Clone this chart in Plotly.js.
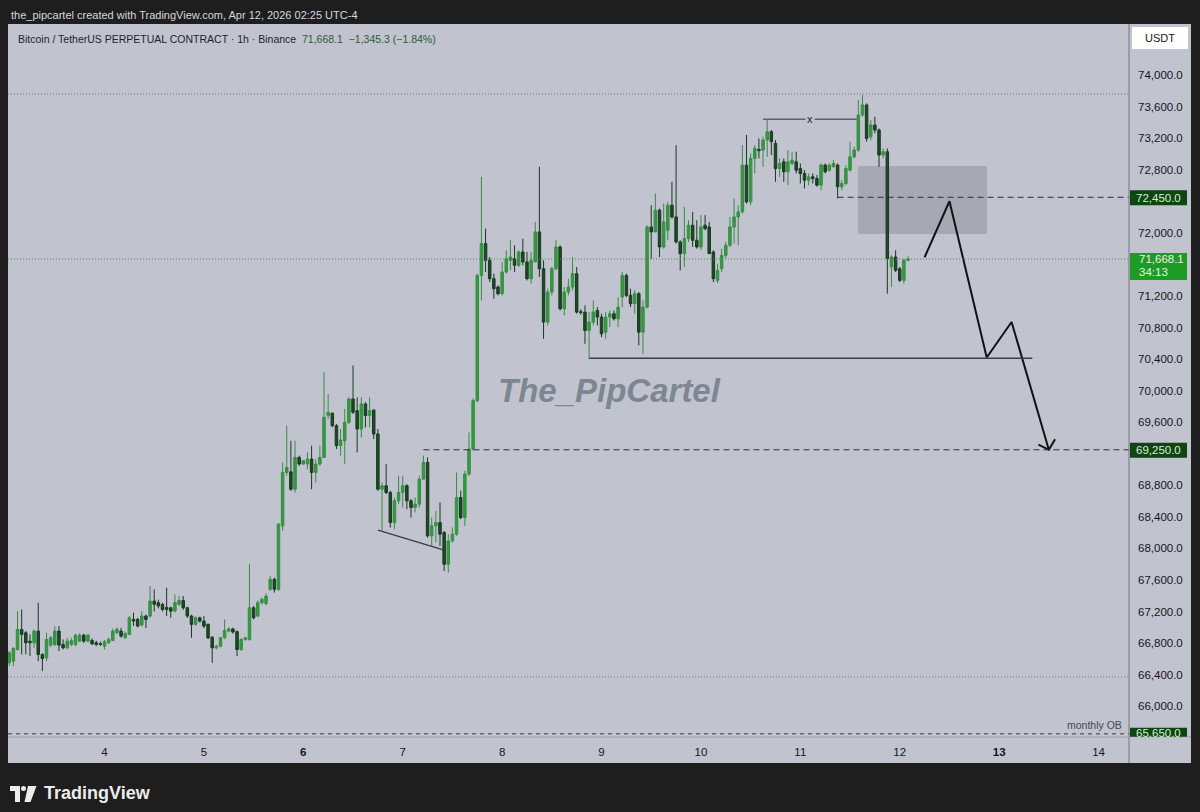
<!DOCTYPE html>
<html><head><meta charset="utf-8">
<script src="https://cdn.plot.ly/plotly-3.0.1.min.js"></script>
<style>html,body{margin:0;padding:0;background:#1e1e1e;}#chart{width:1200px;height:812px;}</style>
</head><body><div id="chart"></div>
<script>
// ---------- DATA (hourly candles, BTCUSDT perp, 1h) ----------
const firstCandle = [2026, 3, 3, 1]; // Apr 3 2026 01:00
const opens = [66550,66571,66719,66973,66931,66825,66804,66952,66656,66613,
66774,66783,66952,66783,66740,66783,66783,66825,66901,66825,
66833,66804,66791,66761,66804,66833,66931,66952,66867,66910,
67100,67100,67028,67143,67143,67333,67312,67291,67252,67248,
67206,67291,67340,67248,67143,67037,67121,67079,67037,66875,
66740,66761,66867,66952,66980,66945,66719,66846,66846,67248,
67143,67312,67300,
67481,67608,67481,68286,68963,68970,68751,
69153,69069,69069,69132,68963,69069,69153,69683,69712,69556,
69302,69365,69598,69894,69746,69513,69831,69683,69755,69450,
68751,68794,68709,68328,68603,68709,68794,68603,68519,68561,
68878,69090,68159,68286,68328,68201,67799,68095,68180,68645,
68391,68942,69259,69873,
71461,71863,71651,71418,71312,71228,
71503,71651,71672,71588,71757,71630,71418,71630,72011,71545,
70868,71249,71545,71820,71037,71249,71312,71482,71000,70995,
70762,70868,71016,70932,70741,70932,70974,70910,71185,71460,
71207,71101,71228,70741,71058,72074,72011,72286,71820,72032,
72350,72201,71884,71736,71926,72096,71905,71820,72096,72074,
71757,71397,71545,71714,71842,72074,72201,72265,72857,72392,
72942,73057,73048,73175,73281,73133,72815,72900,72773,72879,
72900,72815,72752,72667,72709,72688,72604,72858,72794,72836,
72858,72583,72625,72794,72963,73048,73493,73620,73217,73366,
73302,72985,73027,71567,71693,71545,71397,71651];
const highs = [66700,66749,67206,67227,66952,66910,66973,67312,66670,66931,
66889,67016,67016,66846,66867,66867,66918,66925,66918,66918,
66860,66830,66820,66840,66870,66986,67000,66994,66945,67143,
67185,67120,67206,67160,67524,67480,67350,67310,67502,67260,
67418,67396,67396,67260,67160,67140,67135,67143,67050,66890,
66780,66880,67100,67000,66995,66960,66860,66880,67803,67270,
67340,67380,67430,
67651,67630,68320,69090,69556,69365,69365,
69175,69120,69217,69302,69132,69302,70233,69958,69725,69577,
69513,69767,69915,70317,69915,69915,69852,69915,69755,69513,
68836,69069,68730,68645,68921,68921,68815,68624,68645,68921,
69175,69153,68391,68476,68582,68222,68180,68264,68963,68730,
68984,69471,69900,71480,
72709,72053,71693,71482,71334,71630,
71778,71905,71842,71778,71926,71757,71757,72138,72836,71651,
71291,71567,71905,71842,71312,71418,71693,71567,71030,71080,
70995,71143,71058,70974,70995,71016,71016,71185,71503,71482,
71291,71270,71249,71143,72096,72350,72498,72307,72371,72392,
72646,73110,71905,72328,72159,72265,72159,72223,72223,72138,
71778,71609,71799,71884,72201,72434,72350,73112,73239,73006,
73112,73196,73217,73429,73302,73175,72942,72942,73048,73027,
73027,72879,72794,72752,72752,72731,72879,72879,72879,72921,
72879,72667,72857,73154,73090,73683,73747,73641,73429,73471,
73323,73069,73069,71715,71778,71567,71672,71700];
const lows = [66508,66508,66707,66656,66656,66635,66740,66571,66444,66571,
66749,66761,66698,66719,66719,66761,66761,66815,66800,66810,
66775,66760,66765,66719,66790,66825,66915,66867,66855,66900,
67016,67000,67010,66990,67121,67200,67240,67200,67143,67121,
67190,67270,67220,67120,66867,67020,67060,66990,66850,66550,
66719,66745,66850,66935,66920,66635,66700,66830,66830,67100,
67130,67290,67280,
67460,67440,67460,68222,68921,68730,68709,
69048,69060,69005,68751,68836,69048,69153,69640,69535,69259,
69175,69069,69577,69704,69217,69407,69535,69535,69386,68730,
68222,68688,68264,68243,68561,68519,68497,68391,68455,68519,
68878,68137,68032,68074,68032,67714,67693,68074,68159,68370,
68286,68921,69240,69850,
71143,71503,71376,71164,71207,71207,
71482,71524,71503,71567,71588,71397,71355,71630,71440,70656,
70826,71206,71524,71016,70953,71207,71270,70974,70960,70593,
70403,70826,70826,70677,70656,70805,70889,70805,71058,71185,
71058,70974,70572,70466,71037,71672,72011,71693,71799,71905,
72180,71863,71524,71567,71884,71820,71799,71778,72032,71736,
71376,71363,71503,71672,71820,71863,71842,72244,72371,72350,
72752,72942,72836,72963,72985,72646,72709,72646,72604,72857,
72752,72625,72561,72604,72625,72583,72540,72752,72773,72830,
72434,72540,72604,72773,72942,73027,73471,73154,73175,73260,
72836,72942,71228,71313,71503,71376,71355,71640];
const closes = [66677,66732,66973,66910,66804,66804,66952,66656,66605,66846,
66867,66952,66774,66740,66825,66831,66901,66901,66825,66901,
66791,66783,66783,66816,66846,66952,66973,66889,66922,67121,
67079,67016,67143,67100,67333,67291,67270,67227,67227,67206,
67312,67340,67248,67143,67037,67121,67079,67016,66867,66740,
66761,66867,66960,66980,66940,66719,66846,66867,67248,67121,
67312,67354,67396,
67608,67481,68307,68963,69027,68751,69153,
69069,69111,69132,68963,69069,69153,69661,69725,69556,69302,
69373,69598,69894,69725,69513,69831,69683,69746,69450,68751,
68794,68709,68328,68603,68709,68794,68603,68519,68561,68878,
69090,68159,68286,68328,68180,67799,68095,68180,68645,68391,
68942,69259,69873,71461,
71863,71651,71418,71291,71228,71503,
71672,71693,71588,71757,71630,71418,71651,72011,71545,70868,
71249,71545,71820,71037,71249,71312,71482,70995,70990,70762,
70868,70995,70932,70720,70932,70974,70910,71058,71460,71207,
71101,71228,70741,71058,72074,72011,72286,71820,72138,72350,
72201,71884,71736,71926,72096,71905,71820,72074,72053,71736,
71418,71524,71714,71842,72074,72201,72265,72857,72392,72942,
73069,73040,73175,73281,73154,72815,72879,72773,72900,72921,
72794,72752,72667,72709,72688,72604,72858,72773,72858,72879,
72583,72625,72815,72963,73048,73493,73620,73196,73366,73302,
72985,73027,71672,71693,71524,71397,71651,71668.1];

const dayTicks  = ['2026-04-04','2026-04-05','2026-04-06','2026-04-07','2026-04-08','2026-04-09','2026-04-10','2026-04-11','2026-04-12','2026-04-13','2026-04-14'];
const dayLabels = ['4','5','<b>6</b>','7','8','9','10','11','12','<b>13</b>','14'];
// ticks hidden behind the price-label boxes (72,400 / 71,600 / 69,200) are left out, as in the reference
const priceTicks = [66000,66400,66800,67200,67600,68000,68400,68800,69600,70000,70400,70800,71200,72000,72800,73200,73600,74000];

// Drawn levels / annotations (prices & times)
const rangeHighLevel = 73760;
const rangeLowLevel = 66370;
const monthlyOB = 65650;
const resistance = 72450;
const target = 69250;
const supportLevel = 70410;
const lastPrice = 71668.1;
const priceChange = -1345.3;
const pctChange = -1.84;
const countdown = '34:13';
const resistanceStart = '2026-04-11 09:00';
const targetStart = '2026-04-07 05:00';
const supportStart = '2026-04-08 21:00';
const supportEnd = '2026-04-13 08:00';
const trendTimes = ['2026-04-06 18:00', '2026-04-07 09:48'];
const trendPrices = [68233, 67980];
const eqTimes = ['2026-04-10 15:00', '2026-04-11 13:36'];
const eqLevel = 73440;
const zoneTimes = ['2026-04-11 13:55', '2026-04-12 21:04'];
const zonePrices = [71985, 72847];
const pathTimes = ['2026-04-12 06:00','2026-04-12 12:00','2026-04-12 21:00','2026-04-13 03:00','2026-04-13 12:00'];
const pathPrices = [71690, 72400, 70420, 70870, 69250];
const headTimes = ['2026-04-13 09:30','2026-04-13 12:00','2026-04-13 13:30'];
const headPrices = [69315, 69250, 69385];

// ---------- BUILD ----------
const t0 = Date.UTC(firstCandle[0], firstCandle[1], firstCandle[2], firstCandle[3]);
const fmt = ms => new Date(ms).toISOString().slice(0,16).replace('T',' ');
const times = opens.map((_, i) => fmt(t0 + i * 3600000));
const xRange = ['2026-04-03 00:42', '2026-04-14 07:21'];

const BG = '#c1c3cf', DARK = '#1e1e1e', FONT = 'Liberation Sans, Arial, sans-serif';
const PL = 8, PR = 1129, PT = 24, PB = 737;
const PX = x => (x - PL) / (PR - PL);
const PY = y => (PB - y) / (PB - PT);
const fmtP = v => v.toLocaleString('en-US', {minimumFractionDigits:1, maximumFractionDigits:1});
const minus = v => (v < 0 ? '\u2212' : '+') + Math.abs(v).toLocaleString('en-US',{minimumFractionDigits: 1, maximumFractionDigits: 2});

const traces = [
  {type:'candlestick', x:times, open:opens, high:highs, low:lows, close:closes,
   increasing:{line:{color:'#3a8c45', width:1}, fillcolor:'#2f9d3b'},
   decreasing:{line:{color:'#1a3920', width:1}, fillcolor:'#1b4a25'},
   hoverinfo:'none', showlegend:false},
  {type:'scatter', mode:'lines', x:pathTimes, y:pathPrices, line:{color:'#121212', width:2}, hoverinfo:'none', showlegend:false},
  {type:'scatter', mode:'lines', x:headTimes, y:headPrices, line:{color:'#121212', width:2}, hoverinfo:'none', showlegend:false}
];

const shapes = [
  {type:'rect', xref:'paper', yref:'paper', x0:PX(8), x1:PX(1191), y0:PY(763), y1:PY(24), fillcolor:BG, line:{width:0}, layer:'below'},
  {type:'rect', xref:'x', yref:'y', x0:zoneTimes[0], x1:zoneTimes[1], y0:zonePrices[0], y1:zonePrices[1], fillcolor:'rgba(105,107,120,0.30)', line:{width:0}, layer:'below'},
  {type:'line', xref:'paper', yref:'y', x0:0, x1:1, y0:rangeHighLevel, y1:rangeHighLevel, line:{color:'#70747f', width:1, dash:'1px,2px'}},
  {type:'line', xref:'paper', yref:'y', x0:0, x1:1, y0:rangeLowLevel, y1:rangeLowLevel, line:{color:'#70747f', width:1, dash:'1px,2px'}},
  {type:'line', xref:'paper', yref:'y', x0:0, x1:1, y0:lastPrice, y1:lastPrice, line:{color:'#3d8f45', width:1, dash:'1px,2px'}},
  {type:'line', xref:'paper', yref:'y', x0:0, x1:1, y0:monthlyOB, y1:monthlyOB, line:{color:'#636773', width:1.5, dash:'4px,4px'}},
  {type:'line', xref:'x', yref:'y', x0:resistanceStart, x1:xRange[1], y0:resistance, y1:resistance, line:{color:'#2c2f36', width:1, dash:'6px,4px'}},
  {type:'line', xref:'x', yref:'y', x0:targetStart, x1:xRange[1], y0:target, y1:target, line:{color:'#2c2f36', width:1, dash:'6px,4px'}},
  {type:'line', xref:'x', yref:'y', x0:supportStart, x1:supportEnd, y0:supportLevel, y1:supportLevel, line:{color:'#3a3e47', width:1.3}},
  {type:'line', xref:'x', yref:'y', x0:trendTimes[0], x1:trendTimes[1], y0:trendPrices[0], y1:trendPrices[1], line:{color:'#3a3e47', width:1.3}},
  {type:'line', xref:'x', yref:'y', x0:eqTimes[0], x1:eqTimes[1], y0:eqLevel, y1:eqLevel, line:{color:'#2c2f36', width:1}},
  {type:'line', xref:'paper', yref:'paper', x0:1, x1:1, y0:PY(763), y1:1, line:{color:'#6e7280', width:1}},
  {type:'line', xref:'paper', yref:'paper', x0:0, x1:PX(1191), y0:0, y1:0, line:{color:'#9a9daa', width:1}},
  {type:'rect', xref:'paper', yref:'y', ysizemode:'pixel', yanchor:resistance, y0:-8, y1:7, x0:PX(1130), x1:PX(1187), fillcolor:'#0e4612', line:{width:0}},
  {type:'rect', xref:'paper', yref:'y', ysizemode:'pixel', yanchor:target, y0:-8, y1:7, x0:PX(1130), x1:PX(1187), fillcolor:'#0e4612', line:{width:0}},
  {type:'rect', xref:'paper', yref:'y', ysizemode:'pixel', yanchor:lastPrice, y0:-21, y1:6, x0:PX(1130), x1:PX(1187), fillcolor:'#1e9b25', line:{width:0}},
  {type:'rect', xref:'paper', yref:'y', ysizemode:'pixel', yanchor:monthlyOB, y0:-3, y1:6, x0:PX(1130), x1:PX(1187), fillcolor:'#0e4612', line:{width:0}},
  {type:'rect', xref:'paper', yref:'paper', x0:PX(1132), x1:PX(1188), y0:PY(49), y1:PY(27), fillcolor:'#ffffff', line:{width:0}},
  {type:'rect', xref:'paper', yref:'paper', x0:PX(10), x1:PX(20), y0:PY(791), y1:PY(786), fillcolor:'#ececec', line:{width:0}},
  {type:'rect', xref:'paper', yref:'paper', x0:PX(15), x1:PX(20), y0:PY(802), y1:PY(786), fillcolor:'#ececec', line:{width:0}},
  {type:'circle', xref:'paper', yref:'paper', x0:PX(21), x1:PX(26), y0:PY(791), y1:PY(786), fillcolor:'#ececec', line:{width:0}},
  {type:'path', xref:'paper', yref:'paper', path:`M ${PX(28)} ${PY(786)} L ${PX(36.5)} ${PY(786)} L ${PX(30.5)} ${PY(802)} L ${PX(24.5)} ${PY(802)} Z`, fillcolor:'#ececec', line:{width:0}}
];

const boxFont = {family:FONT, size:11.5, color:'#d8eed8'};
const annotations = [
  {xref:'paper', yref:'paper', x:PX(9), y:PY(15), xanchor:'left', yanchor:'middle', showarrow:false,
   text:'the_pipcartel created with TradingView.com, Apr 12, 2026 02:25 UTC-4', font:{family:FONT, size:11, color:'#d6d8de'}},
  {xref:'paper', yref:'paper', x:PX(16), y:PY(39), xanchor:'left', yanchor:'middle', showarrow:false,
   text:'Bitcoin / TetherUS PERPETUAL CONTRACT \u00b7 1h \u00b7 Binance\u00a0\u00a0<span style="color:#2f5a3a">' + fmtP(lastPrice) + '\u00a0\u00a0' + minus(priceChange) + ' (' + minus(pctChange) + '%)</span>',
   font:{family:FONT, size:10.5, color:'#1f232c'}},
  {xref:'paper', yref:'paper', x:PX(609), y:PY(391), xanchor:'center', yanchor:'middle', showarrow:false,
   text:'<b><i>The_PipCartel</i></b>', font:{family:FONT, size:33, color:'#7d8791'}},
  {xref:'x', yref:'y', x:'2026-04-11 02:18', y:eqLevel, showarrow:false, text:'x', bgcolor:BG, borderpad:1,
   font:{family:FONT, size:11, color:'#1f232c'}},
  {xref:'paper', yref:'y', x:PX(1124), y:monthlyOB, xanchor:'right', yanchor:'bottom', yshift:1, showarrow:false,
   text:'monthly OB', font:{family:FONT, size:10.5, color:'#3e4c5c'}},
  {xref:'paper', yref:'y', x:PX(1158.5), y:resistance, yshift:-0.5, xanchor:'center', yanchor:'middle', showarrow:false, text:fmtP(resistance), font:boxFont},
  {xref:'paper', yref:'y', x:PX(1158.5), y:target, yshift:-0.5, xanchor:'center', yanchor:'middle', showarrow:false, text:fmtP(target), font:boxFont},
  {xref:'paper', yref:'y', x:PX(1137), y:lastPrice, xanchor:'left', yanchor:'middle', showarrow:false, text:fmtP(lastPrice), font:{family:FONT, size:11.5, color:'#e2f5e2'}},
  {xref:'paper', yref:'y', x:PX(1137), y:lastPrice, yshift:-13, xanchor:'left', yanchor:'middle', showarrow:false, text:countdown, font:{family:FONT, size:11.5, color:'#e2f5e2'}},
  {xref:'paper', yref:'y', x:PX(1158.5), y:monthlyOB, yshift:1, xanchor:'center', yanchor:'middle', showarrow:false, text:fmtP(monthlyOB), font:boxFont},
  {xref:'paper', yref:'paper', x:PX(1129.5), y:0, xanchor:'left', yanchor:'top', showarrow:false, text:' ', bgcolor:BG, width:59, height:12, borderpad:0},
  {xref:'paper', yref:'paper', x:PX(1160), y:PY(38), xanchor:'center', yanchor:'middle', showarrow:false, text:'USDT', font:{family:FONT, size:11, color:'#131722'}},
  {xref:'paper', yref:'paper', x:PX(42), y:PY(793), xanchor:'left', yanchor:'middle', showarrow:false, text:'<b>TradingView</b>', font:{family:FONT, size:18, color:'#ececec'}}
];

const layout = {
  width:1200, height:812,
  margin:{l:PL, r:1200-PR, t:PT, b:812-PB, pad:0},
  paper_bgcolor:DARK, plot_bgcolor:BG,
  showlegend:false, hovermode:false, dragmode:false,
  boxgap:0.25, boxgroupgap:0.2,
  xaxis:{type:'date', range:xRange, tickmode:'array', tickvals:dayTicks, ticktext:dayLabels,
         showgrid:false, zeroline:false, showline:false, ticks:'', ticklabelstandoff:6,
         tickfont:{family:FONT, size:11.5, color:'#131722'}, rangeslider:{visible:false}, fixedrange:true},
  yaxis:{side:'right', range:[65610, 74646], tickmode:'array', tickvals:priceTicks, tickformat:',.1f',
         showgrid:false, zeroline:false, showline:false, ticks:'', ticklabelstandoff:8,
         tickfont:{family:FONT, size:11.5, color:'#131722'}, fixedrange:true},
  shapes:shapes, annotations:annotations
};

Plotly.newPlot('chart', traces, layout, {staticPlot:true, displayModeBar:false});
</script>
</body></html>
